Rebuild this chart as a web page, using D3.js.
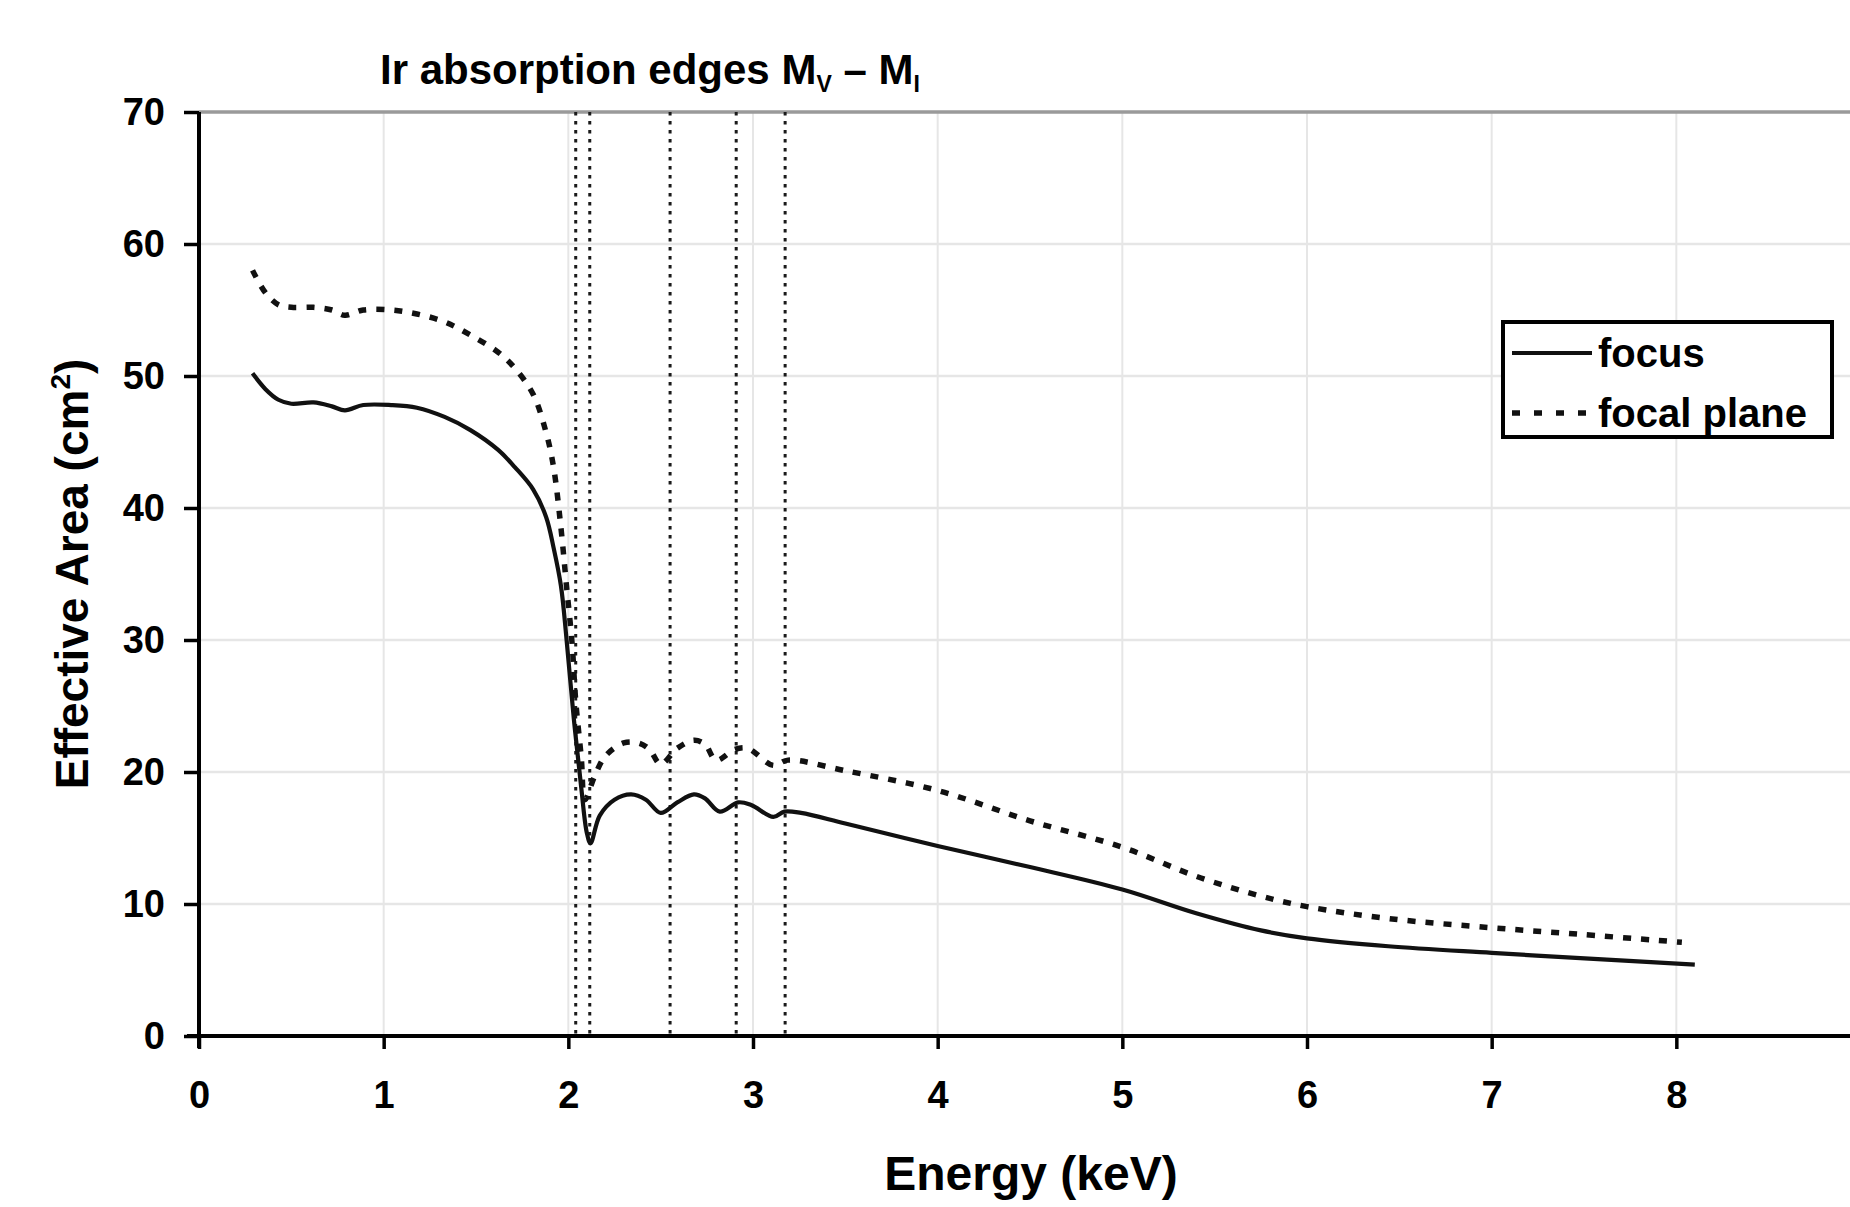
<!DOCTYPE html>
<html>
<head>
<meta charset="utf-8">
<script src="https://cdn.jsdelivr.net/npm/d3@7"></script>
<style>
  html, body { margin: 0; padding: 0; background: #fff; }
  svg { display: block; font-family: "Liberation Sans", Arial, sans-serif; font-weight: bold; }
</style>
</head>
<body>
<svg id="chart" width="1850" height="1207"></svg>
<script>
// ---- data ----
const energyFocus = [0.29,0.36,0.43,0.50,0.62,0.72,0.79,0.89,1.04,1.18,1.33,1.47,1.62,1.71,1.81,1.88,1.92,1.96,1.99,2.03,2.07,2.10,2.12,2.17,2.25,2.34,2.42,2.50,2.59,2.68,2.74,2.82,2.92,2.99,3.11,3.17,3.26,3.50,4.0,4.5,5.0,5.4,5.75,6.0,6.44,7.0,7.48,8.10];
const focus       = [50.2,49.0,48.2,47.9,48.0,47.7,47.4,47.8,47.8,47.6,46.9,45.9,44.4,43.1,41.4,39.3,37.0,34.1,30.1,24.0,18.8,15.4,14.6,16.7,17.9,18.3,17.9,16.9,17.7,18.3,18.0,17.0,17.7,17.5,16.6,17.0,16.9,16.1,14.4,12.8,11.1,9.3,8.0,7.4,6.8,6.3,5.9,5.4];

const energyPlane = [0.29,0.36,0.43,0.50,0.62,0.72,0.79,0.89,1.04,1.18,1.33,1.47,1.62,1.71,1.81,1.88,1.92,1.96,1.99,2.02,2.04,2.07,2.09,2.14,2.20,2.30,2.38,2.44,2.50,2.59,2.68,2.74,2.80,2.90,2.97,3.11,3.19,3.50,4.0,4.5,5.0,5.4,5.75,6.0,6.44,7.0,7.48,8.03];
const focalPlane  = [58.0,56.3,55.4,55.2,55.2,55.0,54.6,55.0,55.0,54.7,54.1,53.1,51.8,50.6,48.6,45.7,43.1,38.5,34.1,29.8,25.4,21.1,17.9,19.6,21.2,22.2,22.2,21.7,20.6,21.8,22.4,22.1,20.9,21.7,21.8,20.5,20.9,20.1,18.6,16.3,14.3,12.1,10.6,9.8,8.9,8.2,7.7,7.1];

// Ir absorption edges M_V .. M_I (keV)
const edgeEnergies = [2.04, 2.116, 2.551, 2.909, 3.174];

const xTicks = [0,1,2,3,4,5,6,7,8];
const xGrid  = [1,2,3,4,5,6,7,8,9];
const yTicks = [0,10,20,30,40,50,60,70];
const seriesNames = ["focus", "focal plane"];

// ---- layout ----
const svg = d3.select("#chart");
const x = d3.scaleLinear().domain([0, 9]).range([199, 1861]);
const y = d3.scaleLinear().domain([0, 70]).range([1036, 112]);

// gridlines
svg.append("g").selectAll("line").data(yTicks.filter(d => d > 0 && d < 70)).join("line")
  .attr("x1", x(0)).attr("x2", 1850).attr("y1", d => y(d)).attr("y2", d => y(d))
  .attr("stroke", "#e6e6e6").attr("stroke-width", 2.5);
svg.append("g").selectAll("line").data(xGrid).join("line")
  .attr("x1", d => x(d)).attr("x2", d => x(d)).attr("y1", y(70)).attr("y2", y(0))
  .attr("stroke", "#e6e6e6").attr("stroke-width", 2);
// top plot border (grey)
svg.append("line").attr("x1", x(0)).attr("x2", 1850).attr("y1", y(70)).attr("y2", y(70))
  .attr("stroke", "#9a9a9a").attr("stroke-width", 3.5);

// absorption edge lines
svg.append("g").selectAll("line").data(edgeEnergies).join("line")
  .attr("x1", d => x(d)).attr("x2", d => x(d)).attr("y1", y(70)).attr("y2", y(0))
  .attr("stroke", "#1a1a1a").attr("stroke-width", 3).attr("stroke-dasharray", "3.5,5.5");

// curves
const line = d3.line().x(d => x(d[0])).y(d => y(d[1])).curve(d3.curveCatmullRom.alpha(0.5));
svg.append("path").datum(d3.zip(energyPlane, focalPlane)).attr("d", line)
  .attr("fill", "none").attr("stroke", "#111").attr("stroke-width", 5.5)
  .attr("stroke-dasharray", "8,10");
svg.append("path").datum(d3.zip(energyFocus, focus)).attr("d", line)
  .attr("fill", "none").attr("stroke", "#111").attr("stroke-width", 4.2);

// axes
const xAxis = svg.append("g").attr("transform", `translate(0,${y(0)})`)
  .call(d3.axisBottom(x).tickValues(xTicks).tickFormat(d3.format("d")).tickSize(13).tickPadding(32).tickSizeOuter(0));
const yAxis = svg.append("g").attr("transform", `translate(${x(0)},0)`)
  .call(d3.axisLeft(y).tickValues(yTicks).tickSize(15).tickPadding(19).tickSizeOuter(0));
[xAxis, yAxis].forEach(g => {
  g.select(".domain").attr("stroke", "#000").attr("stroke-width", 4);
  g.selectAll(".tick line").attr("stroke", "#000").attr("stroke-width", 3.5);
  g.selectAll(".tick text").attr("fill", "#000").attr("font-family", "Liberation Sans, Arial, sans-serif")
    .attr("font-weight", "bold").attr("font-size", 38);
});
xAxis.select(".domain").attr("d", `M${x(0)-12},0H1850`);
yAxis.select(".domain").attr("d", `M0,${y(70)}V${y(0)+12}`);

// axis titles
svg.append("text").attr("x", 1031).attr("y", 1190).attr("text-anchor", "middle")
  .attr("font-size", 48).text("Energy (keV)");
const yt = svg.append("text").attr("transform", "translate(88,574) rotate(-90)")
  .attr("text-anchor", "middle").attr("font-size", 46);
yt.append("tspan").text("Effective Area (cm");
yt.append("tspan").attr("font-size", 28).attr("dy", -18).text("2");
yt.append("tspan").attr("dy", 18).text(")");

// chart title
const title = svg.append("text").attr("x", 380).attr("y", 84).attr("font-size", 42);
title.append("tspan").text("Ir absorption edges M");
title.append("tspan").attr("font-size", 23).attr("dy", 8).text("V");
title.append("tspan").attr("dy", -8).text(" \u2013 M");
title.append("tspan").attr("font-size", 23).attr("dy", 8).text("I");

// legend
const lg = svg.append("g");
lg.append("rect").attr("x", 1503).attr("y", 322).attr("width", 329).attr("height", 115)
  .attr("fill", "#fff").attr("stroke", "#000").attr("stroke-width", 4);
const rows = [{y: 353, dash: null, w: 4.2}, {y: 413, dash: "8,14", w: 5.5}];
rows.forEach((r, i) => {
  lg.append("line").attr("x1", 1512).attr("x2", 1592).attr("y1", r.y).attr("y2", r.y)
    .attr("stroke", "#111").attr("stroke-width", r.w).attr("stroke-dasharray", r.dash);
  lg.append("text").attr("x", 1598).attr("y", r.y + 14).attr("font-size", 40).text(seriesNames[i]);
});
</script>
</body>
</html>
